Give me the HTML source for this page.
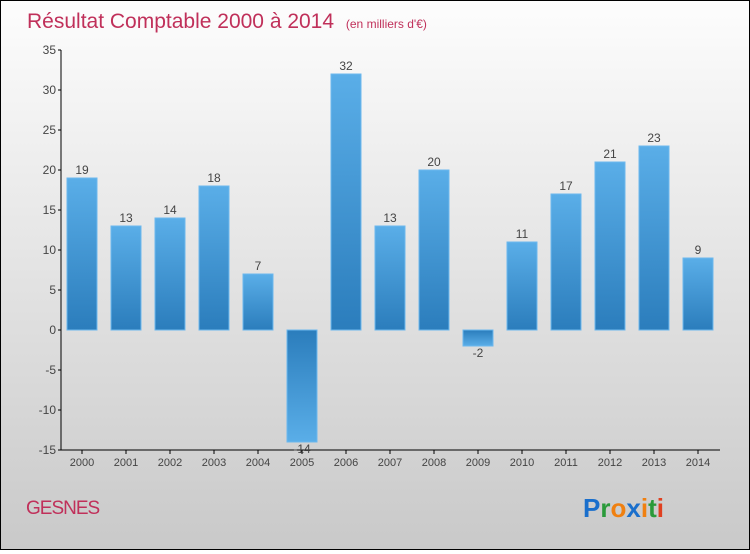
<!DOCTYPE html>
<html><head><meta charset="utf-8"><style>
html,body{margin:0;padding:0}
body{width:750px;height:550px;overflow:hidden;font-family:"Liberation Sans",sans-serif}
#wrap{position:absolute;left:0;top:0;width:748px;height:548px;border:1px solid #000;background:linear-gradient(#fdfdfd,#c9c9c9)}
</style></head><body>
<div id="wrap">
<svg id="chart" width="748" height="548">
<defs><linearGradient id="g" x1="0" y1="0" x2="0" y2="1"><stop offset="0" stop-color="#5aaee8"/><stop offset="1" stop-color="#2b7dbc"/></linearGradient>
<linearGradient id="gn" x1="0" y1="0" x2="0" y2="1"><stop offset="0" stop-color="#2b7dbc"/><stop offset="1" stop-color="#5aaee8"/></linearGradient></defs>
<text x="26" y="27" font-size="21" fill="#c0305a">Résultat Comptable 2000 à 2014 <tspan font-size="12" dx="6">(en milliers d'€)</tspan></text>
<text x="25" y="513" font-size="19" fill="#c0305a" letter-spacing="-1">GESNES</text>
<text x="582" y="516" font-size="26" font-weight="bold"><tspan fill="#1a6fcc">P</tspan><tspan fill="#2a9a3a">r</tspan><tspan fill="#f08010">o</tspan><tspan fill="#1a6fcc">x</tspan><tspan fill="#f08010">i</tspan><tspan fill="#2a9a3a">t</tspan><tspan fill="#e04020">i</tspan></text>
<g id="axes"></g><g id="bars"></g>
</svg></div>
<script>
const years=["2000","2001","2002","2003","2004","2005","2006","2007","2008","2009","2010","2011","2012","2013","2014"];
const values=[19,13,14,18,7,-14,32,13,20,-2,11,17,21,23,9];
const yTicks=[35,30,25,20,15,10,5,0,-5,-10,-15];
const NS="http://www.w3.org/2000/svg";
const y=v=>329+(0-v)*8;
const x=i=>81+i*44;
function mk(t,a,p){const e=document.createElementNS(NS,t);for(const k in a)e.setAttribute(k,a[k]);p.appendChild(e);return e;}
const ax=document.getElementById('axes'),bs=document.getElementById('bars');
let l=mk('line',{x1:60,y1:y(35),x2:60,y2:y(-15),stroke:'#000'},ax);


l=mk('line',{x1:60,y1:y(-15),x2:719,y2:y(-15),stroke:'#000'},ax);


yTicks.forEach(v=>{mk('line',{x1:57,y1:y(v),x2:60,y2:y(v),stroke:'#000'},ax);
const t=mk('text',{x:55,y:y(v)+4,'text-anchor':'end','font-size':12,fill:'#444'},ax);t.textContent=v;

});
years.forEach((yr,i)=>{mk('line',{x1:x(i),y1:y(-15),x2:x(i),y2:y(-15)+4,stroke:'#000'},ax);
const t=mk('text',{x:x(i),y:y(-15)+16,'text-anchor':'middle','font-size':11,fill:'#444'},ax);t.textContent=yr;


const v=values[i];const top=Math.min(y(v),y(0)),h=Math.abs(y(v)-y(0));
const r=mk('rect',{x:x(i)-15,y:top,width:30,height:h,fill:v>=0?'url(#g)':'url(#gn)',stroke:'#6cb8ee','stroke-width':1},bs);


const lb=mk('text',{x:x(i),y:v>=0?y(v)-4:y(v)+11,'text-anchor':'middle','font-size':12,fill:'#444'},bs);lb.textContent=v;

});
</script>
</body></html>
